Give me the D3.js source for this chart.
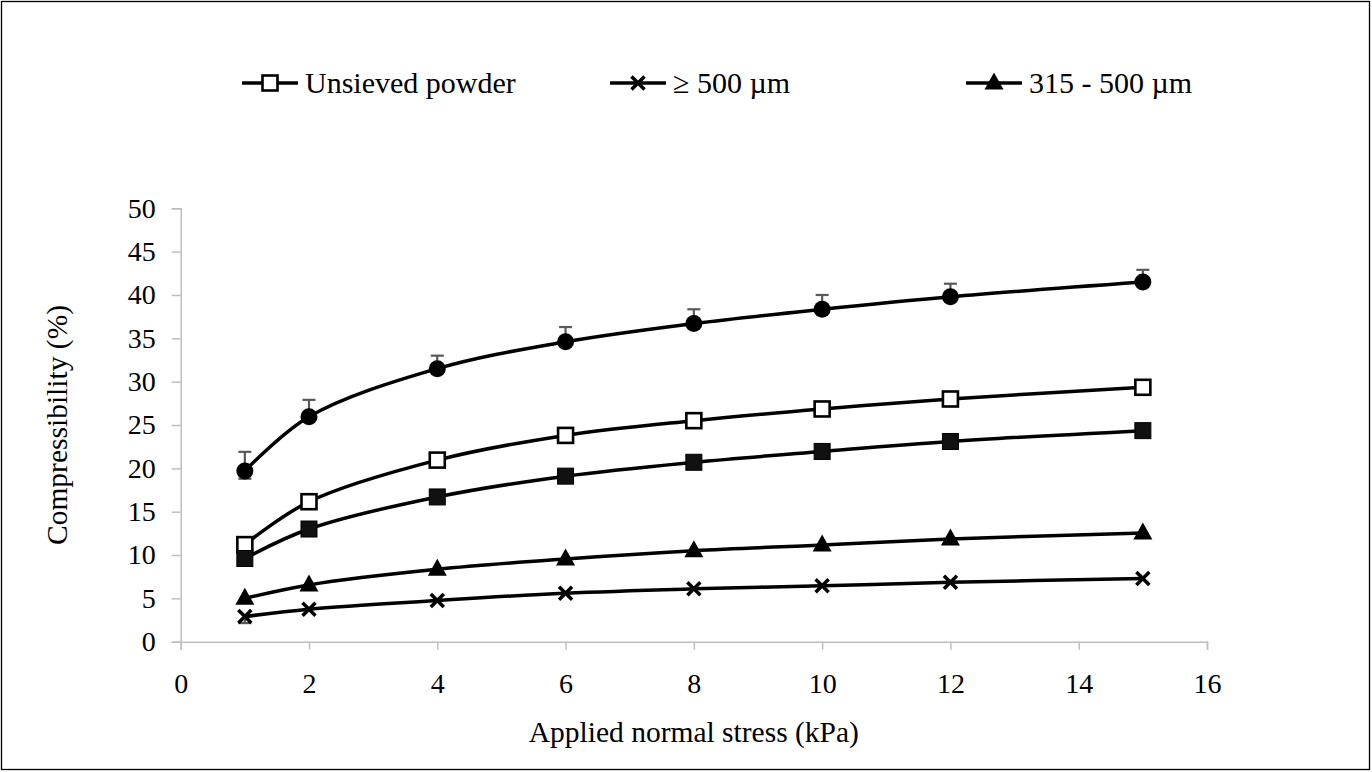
<!DOCTYPE html>
<html><head><meta charset="utf-8">
<script src="https://cdn.jsdelivr.net/npm/d3@7"></script>
<style>
html,body{margin:0;padding:0;background:#fff;}
svg text{font-family:"Liberation Serif","Times New Roman",serif !important;fill:#000;}
</style></head>
<body><svg id="chart" width="1372" height="772"></svg>
<script>
const stress = [1, 2, 4, 6, 8, 10, 12, 15];
const seriesCircle = [19.7, 25.95, 31.5, 34.6, 36.7, 38.35, 39.8, 41.5];
const circleErrPlus = [2.2, 1.95, 1.5, 1.7, 1.65, 1.65, 1.5, 1.4];
const circleErrMinus = [0.9, 0, 0, 0, 0, 0, 0, 0];
const seriesUnsieved = [11.2, 16.15, 20.95, 23.8, 25.5, 26.85, 28.0, 29.35];
const seriesFilledSquare = [9.6, 13.0, 16.7, 19.1, 20.7, 21.95, 23.1, 24.35];
const series315 = [5.0, 6.55, 8.35, 9.55, 10.5, 11.15, 11.85, 12.55];
const series500 = [2.9, 3.75, 4.75, 5.6, 6.1, 6.45, 6.85, 7.3];
const x500ErrMinus = [0.75, 0, 0, 0, 0, 0, 0, 0];
const xTicks = [0, 2, 4, 6, 8, 10, 12, 14, 16];
const yTicks = [0, 5, 10, 15, 20, 25, 30, 35, 40, 45, 50];
const legendLabels = ["Unsieved powder", "\u2265 500 \u00b5m", "315 - 500 \u00b5m"];
const xTitle = "Applied normal stress (kPa)";
const yTitle = "Compressibility (%)";

const FONT = '"Liberation Serif", "Times New Roman", serif';
const svg = d3.select("#chart");
svg.append("rect").attr("x", 1.5).attr("y", 1.5).attr("width", 1368).attr("height", 768)
  .attr("fill", "#fff").attr("stroke", "#000").attr("stroke-width", 1.3);

const x = d3.scaleLinear().domain([0, 16]).range([180.7, 1207]);
const y = d3.scaleLinear().domain([0, 50]).range([641.7, 208.3]);
const axisColor = "#bfbfbf";

// X axis
const gx = svg.append("g").attr("transform", `translate(0,${y(0)})`)
  .call(d3.axisBottom(x).tickValues(xTicks).tickSize(8).tickPadding(23).tickFormat(d3.format("d")));
gx.attr("font-family", null).attr("font-size", null);
gx.select(".domain").attr("stroke", axisColor).attr("stroke-width", 1.5);
gx.selectAll(".tick line").attr("stroke", axisColor).attr("stroke-width", 1.5);
gx.selectAll(".tick text").style("font-family", FONT).style("font-size", "28px").attr("fill", "#000");

// Y axis
const gy = svg.append("g").attr("transform", `translate(${x(0)},0)`)
  .call(d3.axisLeft(y).tickValues(yTicks).tickSize(9).tickPadding(16).tickFormat(d3.format("d")));
gy.attr("font-family", null).attr("font-size", null);
gy.select(".domain").attr("stroke", axisColor).attr("stroke-width", 1.5);
gy.selectAll(".tick line").attr("stroke", axisColor).attr("stroke-width", 1.5);
gy.selectAll(".tick text").style("font-family", FONT).style("font-size", "28px").attr("fill", "#000");

// Titles
svg.append("text").attr("x", (x(0) + x(16)) / 2).attr("y", 742).attr("text-anchor", "middle")
  .style("font-family", FONT).style("font-size", "29.5px").text(xTitle);
svg.append("text").attr("transform", `translate(67,${(y(0) + y(50)) / 2}) rotate(-90)`)
  .attr("text-anchor", "middle").style("font-family", FONT).style("font-size", "29.5px").text(yTitle);

const line = d3.line().x((d, i) => x(stress[i])).y(d => y(d)).curve(d3.curveCatmullRom.alpha(0.5));
const errColor = "#595959";

function drawErr(vals, plus, minus) {
  const g = svg.append("g").attr("stroke", errColor).attr("stroke-width", 2.2);
  vals.forEach((v, i) => {
    const cx = x(stress[i]);
    if (plus[i] > 0) {
      g.append("line").attr("x1", cx).attr("x2", cx).attr("y1", y(v)).attr("y2", y(v + plus[i]));
      g.append("line").attr("x1", cx - 6.5).attr("x2", cx + 6.5).attr("y1", y(v + plus[i])).attr("y2", y(v + plus[i]));
    }
    if (minus[i] > 0) {
      g.append("line").attr("x1", cx).attr("x2", cx).attr("y1", y(v)).attr("y2", y(v - minus[i]));
      g.append("line").attr("x1", cx - 6.5).attr("x2", cx + 6.5).attr("y1", y(v - minus[i])).attr("y2", y(v - minus[i]));
    }
  });
}

function drawLine(vals) {
  svg.append("path").datum(vals).attr("d", line).attr("fill", "none")
    .attr("stroke", "#000").attr("stroke-width", 3.5);
}

function marker(g, type, cx, cy) {
  if (type === "circle") {
    g.append("circle").attr("cx", cx).attr("cy", cy).attr("r", 8.5).attr("fill", "#000");
  } else if (type === "openSquare") {
    g.append("rect").attr("x", cx - 7.5).attr("y", cy - 7.5).attr("width", 15).attr("height", 15)
      .attr("fill", "#fff").attr("stroke", "#000").attr("stroke-width", 2.6);
  } else if (type === "filledSquare") {
    g.append("rect").attr("x", cx - 8).attr("y", cy - 8).attr("width", 16).attr("height", 16)
      .attr("fill", "#111").attr("stroke", "#000").attr("stroke-width", 1);
  } else if (type === "triangle") {
    g.append("path").attr("d", `M${cx},${cy - 10.5}L${cx + 9.5},${cy + 6.5}L${cx - 9.5},${cy + 6.5}Z`).attr("fill", "#000");
  } else if (type === "x") {
    g.append("path").attr("d", `M${cx - 6.5},${cy - 6.5}L${cx + 6.5},${cy + 6.5}M${cx + 6.5},${cy - 6.5}L${cx - 6.5},${cy + 6.5}`)
      .attr("stroke", "#000").attr("stroke-width", 3.5).attr("fill", "none");
  }
}

function drawMarkers(vals, type) {
  const g = svg.append("g");
  vals.forEach((v, i) => marker(g, type, x(stress[i]), y(v)));
}

drawErr(seriesCircle, circleErrPlus, circleErrMinus);
drawErr(series500, [0,0,0,0,0,0,0,0], x500ErrMinus);
drawLine(seriesCircle);
drawLine(seriesUnsieved);
drawLine(seriesFilledSquare);
drawLine(series315);
drawLine(series500);
drawMarkers(seriesCircle, "circle");
drawMarkers(seriesUnsieved, "openSquare");
drawMarkers(seriesFilledSquare, "filledSquare");
drawMarkers(series315, "triangle");
drawMarkers(series500, "x");

// Legend
const legendItems = [
  { label: legendLabels[0], type: "openSquare", x0: 242 },
  { label: legendLabels[1], type: "x", x0: 610 },
  { label: legendLabels[2], type: "triangle", x0: 966 }
];
const ly = 83;
legendItems.forEach(it => {
  const g = svg.append("g");
  g.append("line").attr("x1", it.x0).attr("x2", it.x0 + 56).attr("y1", ly).attr("y2", ly)
    .attr("stroke", "#000").attr("stroke-width", 3.5);
  marker(g, it.type, it.x0 + 28, ly);
  g.append("text").attr("x", it.x0 + 63).attr("y", ly + 10).style("font-family", FONT)
    .style("font-size", "30px").text(it.label);
});
</script></body></html>
